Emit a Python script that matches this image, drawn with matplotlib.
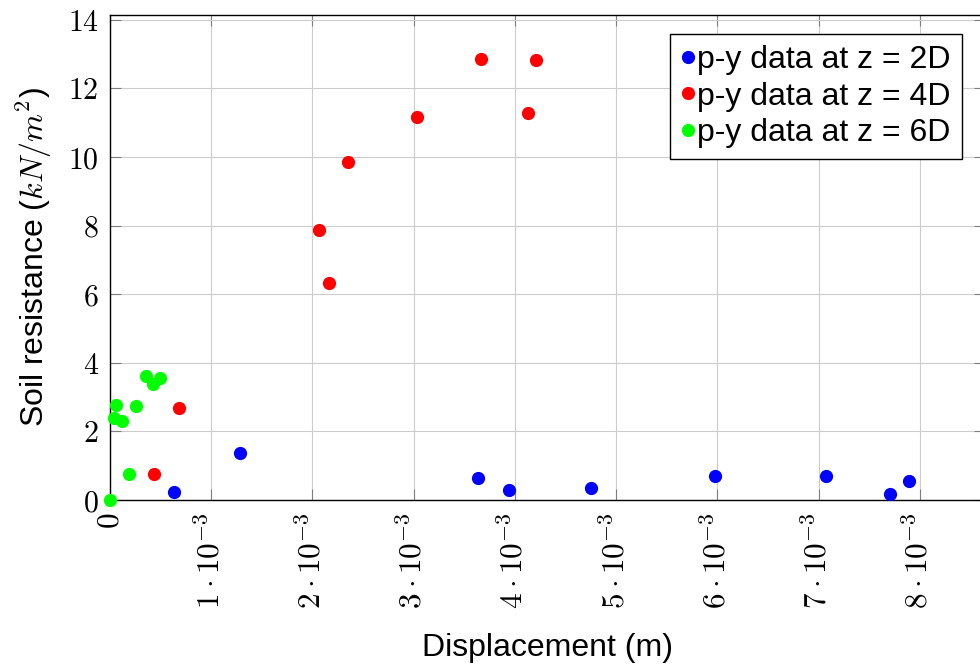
import numpy as np
import matplotlib
matplotlib.use('Agg')
import matplotlib.pyplot as plt
from matplotlib.ticker import FixedLocator, FuncFormatter

plt.rcParams['font.family'] = ['Liberation Sans', 'DejaVu Sans']
plt.rcParams['mathtext.fontset'] = 'cm'

# p-y data (displacement in m, resistance in kN/m^2)
x_2d = [0.632e-3, 1.284e-3, 3.635e-3, 3.94e-3, 4.754e-3, 5.975e-3, 7.068e-3, 7.70e-3, 7.895e-3]
y_2d = [0.24, 1.36, 0.63, 0.29, 0.35, 0.70, 0.69, 0.175, 0.55]

x_4d = [0.435e-3, 0.681e-3, 2.067e-3, 2.16e-3, 2.354e-3, 3.035e-3, 3.66e-3, 4.124e-3, 4.204e-3]
y_4d = [0.76, 2.67, 7.87, 6.32, 9.84, 11.16, 12.85, 11.29, 12.82]

x_6d = [0.0, 0.184e-3, 0.063e-3, 0.257e-3, 0.04e-3, 0.12e-3, 0.356e-3, 0.428e-3, 0.497e-3]
y_6d = [0.0, 0.75, 2.76, 2.75, 2.38, 2.31, 3.61, 3.38, 3.57]

labels = ['p-y data at z = 2D', 'p-y data at z = 4D', 'p-y data at z = 6D']
xticks = [0, 1e-3, 2e-3, 3e-3, 4e-3, 5e-3, 6e-3, 7e-3, 8e-3]
yticks = [0, 2, 4, 6, 8, 10, 12, 14]

W, H = 980, 668
fig = plt.figure(figsize=(W / 100, H / 100), dpi=100)
ax = fig.add_axes([110 / W, 1 - 500 / H, (985 - 110) / W, (500 - 15) / H])

for xs, ys, c, lab in zip([x_2d, x_4d, x_6d], [y_2d, y_4d, y_6d],
                          ['#0000ff', '#ff0000', '#00ff00'], labels):
    ax.plot(xs, ys, linestyle='none', marker='o', markersize=8.5, color=c,
            label=lab, clip_on=False, zorder=3)

ax.set_xlim(0, 8.642e-3)
ax.set_ylim(0, 14.14)

ax.xaxis.set_major_locator(FixedLocator(xticks))
ax.yaxis.set_major_locator(FixedLocator(yticks))


def fmt_x(v, pos):
    if abs(v) < 1e-12:
        return '$0$'
    return r'$%d \cdot 10^{-3}$' % int(round(v * 1e3))


ax.xaxis.set_major_formatter(FuncFormatter(fmt_x))
ax.yaxis.set_major_formatter(FuncFormatter(lambda v, p: '$%d$' % v))

ax.tick_params(direction='in', top=True, right=True, length=8, width=0.8,
               color='#7f7f7f')
ax.tick_params(axis='y', pad=8, labelsize=21.5)
ax.tick_params(axis='x', pad=9, labelrotation=90, labelsize=22.5)

ax.grid(True, color='#cccccc', linewidth=0.8)
ax.set_axisbelow(True)
for s in ax.spines.values():
    s.set_linewidth(1.0)
    s.set_color('black')

ax.set_xlabel('Displacement (m)', fontsize=23, labelpad=17)
ax.set_ylabel(r'Soil resistance ($kN/m^2$)', fontsize=23, labelpad=10)

leg = ax.legend(loc='upper right', bbox_to_anchor=(962 / W, 1 - 34 / H),
                bbox_transform=fig.transFigure, borderaxespad=0,
                fontsize=23, handlelength=0.4, handletextpad=0.1,
                labelspacing=0.2, borderpad=0.35, fancybox=False,
                framealpha=1, edgecolor='black', markerscale=1.0)
leg.get_frame().set_linewidth(1.0)

fig.savefig('out.png', dpi=100)
